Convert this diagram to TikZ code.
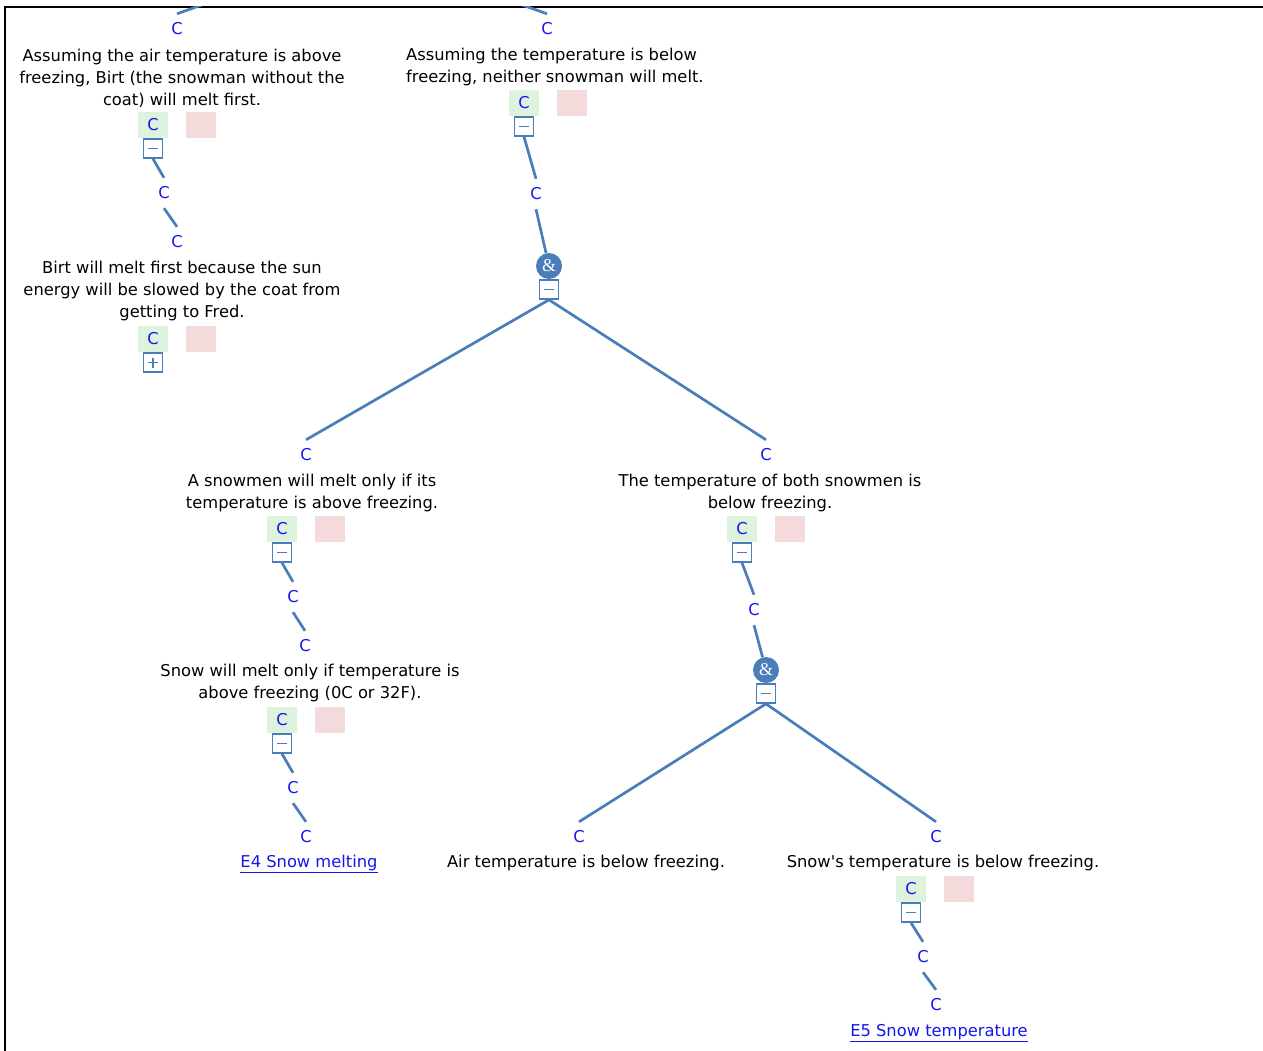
\documentclass[tikz,border=0pt]{standalone}
\usepackage{fontspec}
\setmainfont{DejaVu Sans}[Ligatures=TeXOff]
\newfontfamily\ampfont{Liberation Serif}
\usetikzlibrary{positioning}
\definecolor{treeblue}{RGB}{74,126,187}
\definecolor{labelblue}{RGB}{20,20,240}
\definecolor{agreegreen}{RGB}{221,243,221}
\definecolor{disagreepink}{RGB}{245,218,219}
\newcommand{\foldminus}{\textcolor{treeblue}{\rule{10pt}{1.7pt}}}
\newcommand{\foldplus}{\textcolor{treeblue}{\rlap{\rule[4.15pt]{10pt}{1.7pt}}\hspace{4.15pt}\rule{1.7pt}{10pt}\hspace{4.15pt}}}

\begin{document}
\begin{tikzpicture}[
    x=1pt, y=-1pt,
    % Define styles
    claim/.style={align=center, inner sep=0pt, font=\fontsize{16.3}{22}\selectfont},
    cnode/.style={text=labelblue, inner sep=1pt, minimum height=30pt, font=\fontsize{16.3}{18}\selectfont},
    okbox/.style={rectangle, fill=agreegreen, text=labelblue, minimum width=30pt, minimum height=26pt, inner sep=0pt, font=\fontsize{16.3}{18}\selectfont},
    nobox/.style={rectangle, fill=disagreepink, minimum width=30pt, minimum height=26pt, inner sep=0pt},
    fold/.style={rectangle, draw=treeblue, line width=1.6pt, fill=white, minimum size=19pt, inner sep=0pt},
    andnode/.style={circle, fill=treeblue, text=white, minimum size=26pt, inner sep=0pt, font=\ampfont\fontsize{18}{18}\selectfont},
    treeline/.style={draw=treeblue, line width=2.7pt},
    reflink/.style={text=labelblue, inner sep=0pt, font=\fontsize{16.3}{18}\selectfont}
]
\useasboundingbox (0,0) rectangle (1263,1051);

% Frame
\draw[line width=2.5pt] (1263,7) -- (5,7) -- (5,1051);

% Parent above the view
\coordinate (root) at (362,-52);

% Top left claim
\node[cnode] (cA) at (177,29) {C};
\node[claim] (tA) at (182,78) {Assuming the air temperature is above\\freezing, Birt (the snowman without the\\coat) will melt first.};
\node[okbox] (okA) at (153,125) {C};
\node[nobox, right=18pt of okA] (noA) {};
\node[fold, below=0pt of okA] (fA) {\foldminus};
\node[cnode] (mA) at (164,193) {C};
\node[cnode] (cA2) at (177,242) {C};
\node[claim] (tA2) at (182,291) {Birt will melt first because the sun\\energy will be slowed by the coat from\\getting to Fred.};
\node[okbox] (okA2) at (153,339) {C};
\node[nobox, right=18pt of okA2] (noA2) {};
\node[fold, below=0pt of okA2] (fA2) {\foldplus};

% Top middle claim
\node[cnode] (cB) at (547,29) {C};
\node[claim, align=left, anchor=west] (tB) at (406,67) {Assuming the temperature is below\\freezing, neither snowman will melt.};
\node[okbox] (okB) at (524,103) {C};
\node[nobox, right=18pt of okB] (noB) {};
\node[fold, below=0pt of okB] (fB) {\foldminus};
\node[cnode] (mB) at (536,194) {C};
\node[andnode] (andB) at (549,266) {\&};
\node[fold, below=0pt of andB] (fAndB) {\foldminus};

% Left child
\node[cnode] (cC) at (306,455) {C};
\node[claim] (tC) at (312,493) {A snowmen will melt only if its\\temperature is above freezing.};
\node[okbox] (okC) at (282,529) {C};
\node[nobox, right=18pt of okC] (noC) {};
\node[fold, below=0pt of okC] (fC) {\foldminus};
\node[cnode] (mC) at (293,597) {C};
\node[cnode] (cC2) at (305,646) {C};
\node[claim] (tC2) at (310,683) {Snow will melt only if temperature is\\above freezing (0C or 32F).};
\node[okbox] (okC2) at (282,720) {C};
\node[nobox, right=18pt of okC2] (noC2) {};
\node[fold, below=0pt of okC2] (fC2) {\foldminus};
\node[cnode] (mC2) at (293,788) {C};
\node[cnode] (cC3) at (306,837) {C};
\node[reflink] (lnE4) at (309,864) {\underline{E4 Snow melting}};

% Right child
\node[cnode] (cD) at (766,455) {C};
\node[claim] (tD) at (770,493) {The temperature of both snowmen is\\below freezing.};
\node[okbox] (okD) at (742,529) {C};
\node[nobox, right=18pt of okD] (noD) {};
\node[fold, below=0pt of okD] (fD) {\foldminus};
\node[cnode] (mD) at (754,610) {C};
\node[andnode] (andD) at (766,670) {\&};
\node[fold, below=0pt of andD] (fAndD) {\foldminus};

% Leaves
\node[cnode] (cE) at (579,837) {C};
\node[claim] (tE) at (586,863) {Air temperature is below freezing.};
\node[cnode] (cF) at (936,837) {C};
\node[claim] (tF) at (943,863) {Snow's temperature is below freezing.};
\node[okbox] (okF) at (911,889) {C};
\node[nobox, right=18pt of okF] (noF) {};
\node[fold, below=0pt of okF] (fF) {\foldminus};
\node[cnode] (mF) at (923,957) {C};
\node[cnode] (cF2) at (936,1005) {C};
\node[reflink] (lnE5) at (939,1033) {\underline{E5 Snow temperature}};

% Connections from the parent
\begin{scope}
\clip (5,7) rectangle (1263,1051);
\draw[treeline] (root) -- (cA.north);
\draw[treeline] (root) -- (cB.north);
\end{scope}

% Connections
\draw[treeline] (fA.south) -- (mA.north);
\draw[treeline] (mA.south) -- (cA2.north);
\draw[treeline] (fB.south) -- (mB.north);
\draw[treeline] (mB.south) -- (andB);
\draw[treeline] (fAndB.south) -- (cC.north);
\draw[treeline] (fAndB.south) -- (cD.north);
\draw[treeline] (fC.south) -- (mC.north);
\draw[treeline] (mC.south) -- (cC2.north);
\draw[treeline] (fC2.south) -- (mC2.north);
\draw[treeline] (mC2.south) -- (cC3.north);
\draw[treeline] (fD.south) -- (mD.north);
\draw[treeline] (mD.south) -- (andD);
\draw[treeline] (fAndD.south) -- (cE.north);
\draw[treeline] (fAndD.south) -- (cF.north);
\draw[treeline] (fF.south) -- (mF.north);
\draw[treeline] (mF.south) -- (cF2.north);

\end{tikzpicture}
\end{document}
